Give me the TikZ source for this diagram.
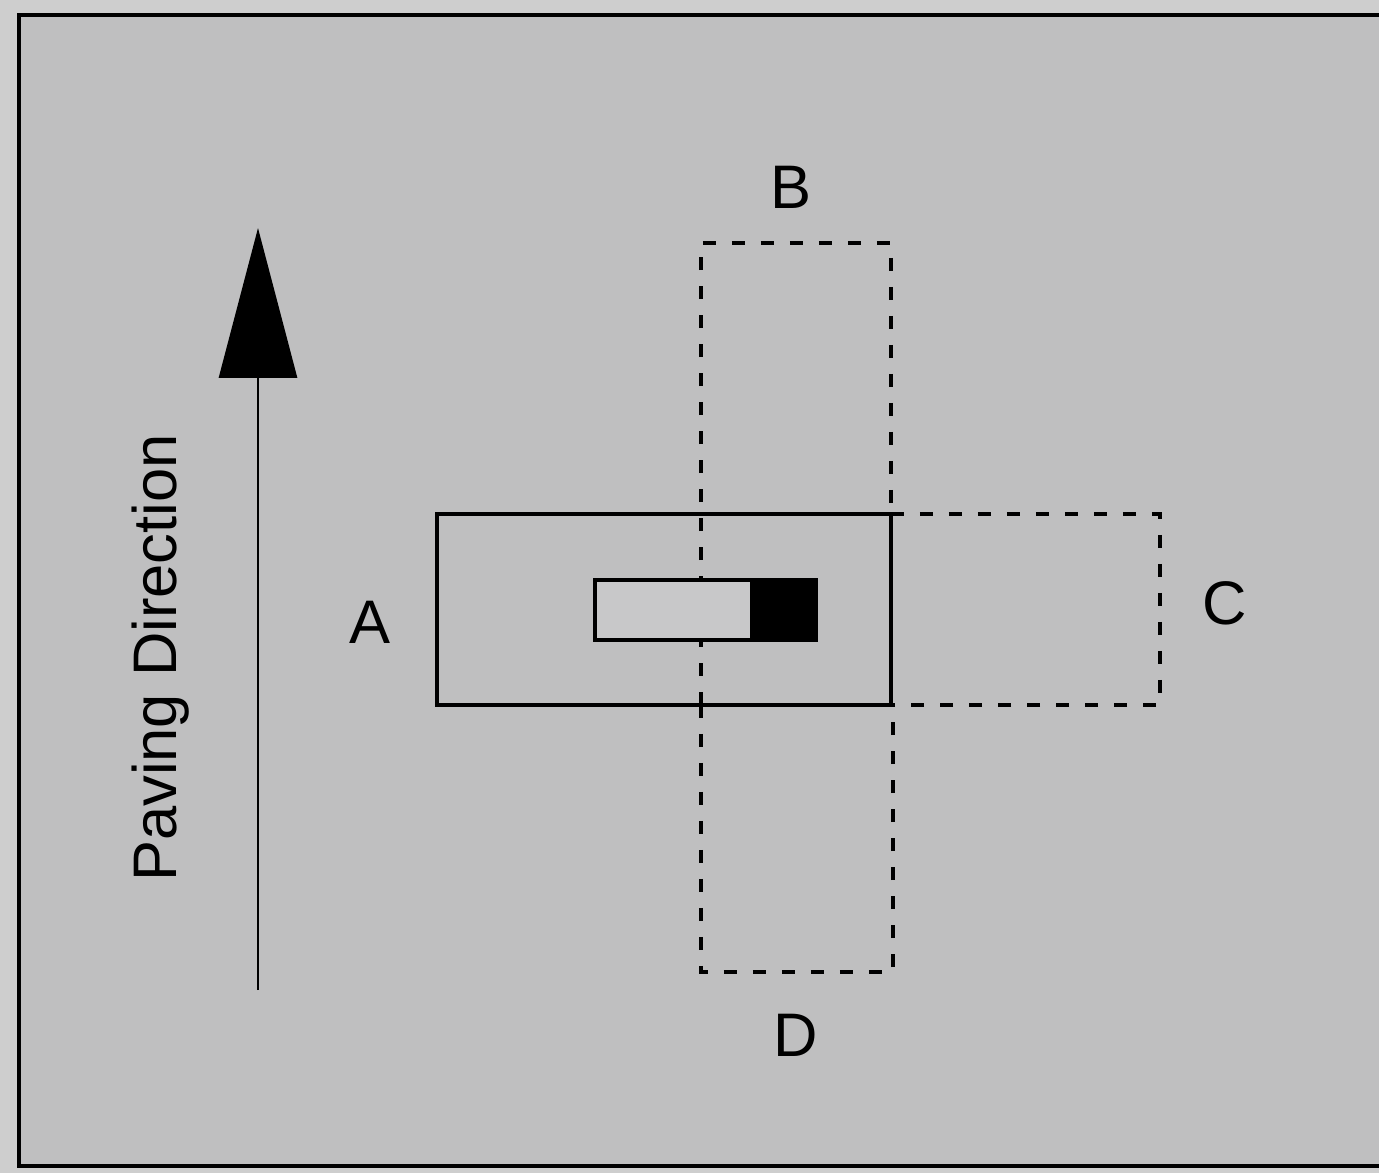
\documentclass[tikz,border=0pt]{standalone}
\usepackage{fontspec}
\setmainfont{Liberation Sans}
\usetikzlibrary{arrows.meta, positioning}
\definecolor{paper}{RGB}{206,206,206}
\definecolor{scangray}{RGB}{191,191,192}
\definecolor{gagefill}{RGB}{200,200,201}
\tikzset{
    padbase/.style={x=0.02cm, y=-0.02cm, font=\fontsize{35}{40}\selectfont},
    frame/.style={draw=black, line width=2.6pt, fill=scangray},
    slab/.style={rectangle, draw=black, line width=2.7pt, inner sep=0pt, outer sep=0pt},
    spot/.style={rectangle, draw=none, inner sep=0pt, outer sep=0pt},
    ghost/.style={draw=black, line width=2.3pt, dash pattern=on 7.5pt off 9pt},
    gage/.style={rectangle, draw=black, line width=2.3pt, inner sep=0pt, minimum height=1.2cm},
    padlabel/.style={inner sep=0pt},
    paveline/.style={draw, line width=1.7pt, -{Triangle[length=3cm, width=1.56cm]}},
}

\begin{document}
\begin{tikzpicture}[padbase]

% ===================== PAGE + FRAME =====================
\useasboundingbox[fill=paper] (0,0) rectangle (1379,1173);
\draw[frame] (19,15) rectangle (1384,1166);

% ===================== PAVING DIRECTION =====================
\coordinate (pave_tail) at (258,990);
\coordinate (pave_head) at (258,228);
\draw[paveline] (pave_tail) -- (pave_head);
\node[padlabel, rotate=90] (pave_text) at (161,658) {Paving Direction};

% ===================== TEST POSITIONS =====================
\node[slab, minimum width=9.08cm, minimum height=3.82cm] (a_box) at (664,609.5) {};
\node[spot, minimum width=3.8cm, minimum height=9.24cm] (b_box) at (796,474) {};
\node[spot, minimum width=3.84cm, minimum height=9.08cm] (d_box) at (797,745) {};
\node[spot, minimum width=9.1cm, minimum height=3.82cm] (c_box) at (932.5,609.5) {};

% dashed outlines, only the parts outside A (plus B's edge through A)
\draw[ghost] (b_box.south west) -- (b_box.north west) -- (b_box.north east) -- (b_box.east |- a_box.north);
\draw[ghost] (a_box.south -| d_box.west) -- (d_box.south west) -- (d_box.south east) -- (a_box.south -| d_box.east);
\draw[ghost] (a_box.north east) -- (c_box.north east) -- (c_box.south east) -- (a_box.south east);

% Gage in the middle
\node[gage, fill=gagefill, minimum width=3.14cm] (gage_body) at (673.5,610) {};
\node[gage, fill=black, minimum width=1.2cm, anchor=west] (gage_end) at (gage_body.east) {};

% Labels
\node[padlabel] (lab_a) at (370,622) {A};
\node[padlabel] (lab_b) at (791,187) {B};
\node[padlabel] (lab_c) at (1225,603) {C};
\node[padlabel] (lab_d) at (796,1035) {D};

\end{tikzpicture}
\end{document}
